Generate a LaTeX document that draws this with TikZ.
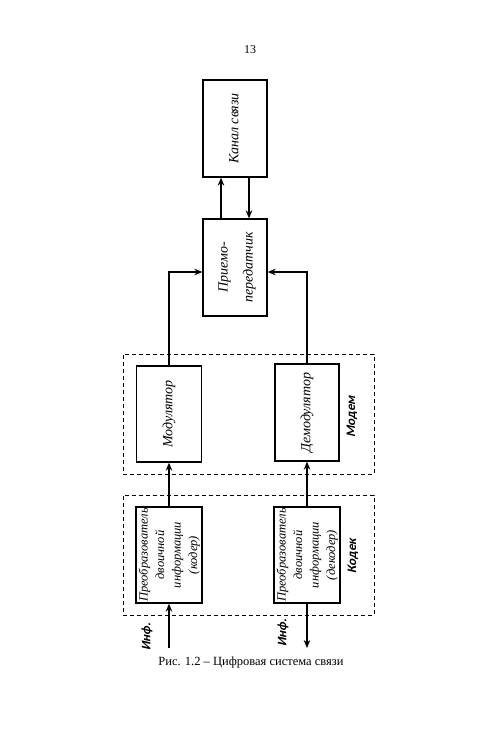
\documentclass[tikz,border=0pt]{standalone}
\usepackage{fontspec}
\setmainfont{Liberation Serif}
\newfontfamily\lblfont[FakeSlant=0.22]{Carlito}
\usetikzlibrary{arrows.meta}
\newcommand\boxtext[3]{\rotatebox{90}{\fontsize{#1}{#2}\selectfont\itshape\begin{tabular}{@{}c@{}}#3\end{tabular}}}
\begin{document}
\begin{tikzpicture}[x=1pt,y=-1pt,
  blk/.style={draw, line width=1.3pt, inner sep=0pt, anchor=center},
  grp/.style={draw, dash pattern=on 4pt off 3pt, line width=1pt, inner sep=0pt},
  conn/.style={line width=2pt, -{Stealth[length=8pt,width=6.5pt]}},
  lbl/.style={font=\lblfont\bfseries\fontsize{13}{15}\selectfont, rotate=90, inner sep=0pt}]
\fill[white] (0,0) rectangle (500,749);
\useasboundingbox (0,0) rectangle (500,749);

\node[font=\fontsize{12}{14}\selectfont] (page) at (250,50) {13};

\node[blk, minimum width=64pt, minimum height=97pt] (kanal) at (235,128.5) {\boxtext{14}{17}{Канал связи}};
\node[blk, minimum width=64pt, minimum height=97pt] (prm) at (235,267.5) {\boxtext{14}{25}{Приемо-\\передатчик}};

\node[grp, minimum width=251pt, minimum height=120pt] (modem) at (248.5,414) {};
\node[blk, minimum width=65pt, minimum height=96pt] (mod) at (169,414) {\boxtext{14}{17}{Модулятор}};
\node[blk, minimum width=64pt, minimum height=97pt] (demod) at (307,412.5) {\boxtext{14}{17}{Демодулятор}};
\node[lbl] (modemlbl) at (352,417) {Модем};

\node[grp, minimum width=251pt, minimum height=120pt] (codec) at (248.5,555) {};
\node[blk, minimum width=66pt, minimum height=96pt] (coder) at (169,555) {\boxtext{12.5}{16.5}{Преобразователь\\двоичной\\информации\\(кодер)}};
\node[blk, minimum width=64pt, minimum height=96pt] (decoder) at (307,555) {\boxtext{12.5}{16.5}{Преобразователь\\двоичной\\информации\\(декодер)}};
\node[lbl] (codeclbl) at (353,556) {Кодек};

\coordinate (in) at (169,648);
\coordinate (out) at (307,648);
\node[lbl] (inlbl) at (147,637) {Инф.};
\node[lbl] (outlbl) at (283,633) {Инф.};

\node[font=\fontsize{12.5}{15}\selectfont] (cap) at (251,662) {Рис. 1.2 – Цифровая система связи};

% connectors
\draw[conn] ([xshift=-14pt]prm.north) -- ([xshift=-14pt]kanal.south);
\draw[conn] ([xshift=14pt]kanal.south) -- ([xshift=14pt]prm.north);
\draw[conn] (mod.north) |- ([yshift=-4.5pt]prm.west);
\draw[conn] (demod.north) |- ([yshift=-4.5pt]prm.east);
\draw[conn] (coder.north) -- (mod.south);
\draw[conn] (decoder.north) -- (demod.south);
\draw[conn] (in) -- (coder.south);
\draw[conn] (decoder.south) -- (out);
\end{tikzpicture}
\end{document}
